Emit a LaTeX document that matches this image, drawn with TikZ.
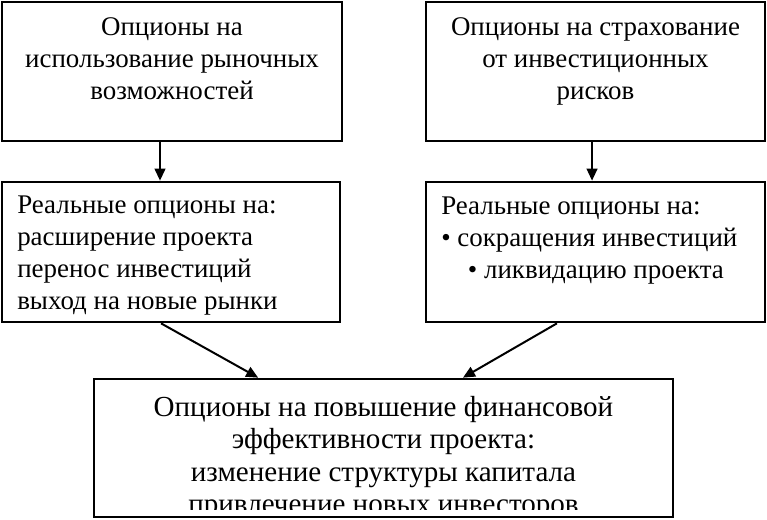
\documentclass[tikz,border=0pt]{standalone}
\usepackage{fontspec}
\setmainfont{Liberation Serif}
\usetikzlibrary{arrows.meta,positioning}

\tikzset{
  optbox/.style={draw, line width=2pt, inner sep=0pt},
  opttext/.style={inner sep=0pt, font=\fontsize{20.2pt}{24pt}\selectfont},
  optarrow/.style={line width=1.5pt, -{Triangle[length=9pt,width=8pt]}}
}

\begin{document}
\begin{tikzpicture}[x=0.75pt,y=-0.75pt]
        \useasboundingbox (0,0) rectangle (767,520);

        % Top row: groups of options
        \node[optbox, minimum width=255pt, minimum height=104.25pt] (market) at (172,71.5) {};
        \node[optbox, minimum width=254.25pt, minimum height=104.25pt] (hedge) at (595.5,71.5) {};
        \node[opttext, anchor=north, align=center] (markettext) at (172,17)
          {Опционы на\\использование рыночных\\возможностей};
        \node[opttext, anchor=north, align=center] (hedgetext) at (595.5,17)
          {Опционы на страхование\\от инвестиционных\\рисков};

        % Middle row: real options
        \node[optbox, minimum width=253.5pt, minimum height=105pt] (expand) at (171,252) {};
        \node[optbox, minimum width=254.25pt, minimum height=105pt] (reduce) at (595.5,252) {};
        \node[opttext, anchor=north west, align=left] (expandtext) at (17,195.5)
          {Реальные опционы на:\\расширение проекта\\перенос инвестиций\\выход на новые рынки};
        \node[opttext, anchor=north west, align=left] (reducetext) at (441,197)
          {Реальные опционы на:\\• сокращения инвестиций\\\hspace*{20pt}• ликвидацию проекта};

        % Bottom box: financial options (text cut by the frame)
        \node[optbox, minimum width=434.25pt, minimum height=103.5pt] (finance) at (383.5,448) {};
        \begin{scope}
          \clip (94,379) rectangle (673,509);
          \node[opttext, font=\fontsize{21.8pt}{24.3pt}\selectfont, anchor=north, align=center]
            (financetext) at (383.5,396)
            {Опционы на повышение финансовой\\эффективности проекта:\\изменение структуры капитала\\привлечение новых инвесторов};
        \end{scope}

        % Arrows
        \draw[optarrow] ([xshift=-9pt]market.south) -- ([xshift=-8.25pt]expand.north);
        \draw[optarrow] ([xshift=-2.6pt]hedge.south) -- ([xshift=-2.6pt]reduce.north);
        \draw[optarrow] ([xshift=-7.5pt]expand.south) -- ([xshift=-94pt]finance.north);
        \draw[optarrow] ([xshift=-28.9pt]reduce.south) -- ([xshift=59.6pt]finance.north);
\end{tikzpicture}
\end{document}
